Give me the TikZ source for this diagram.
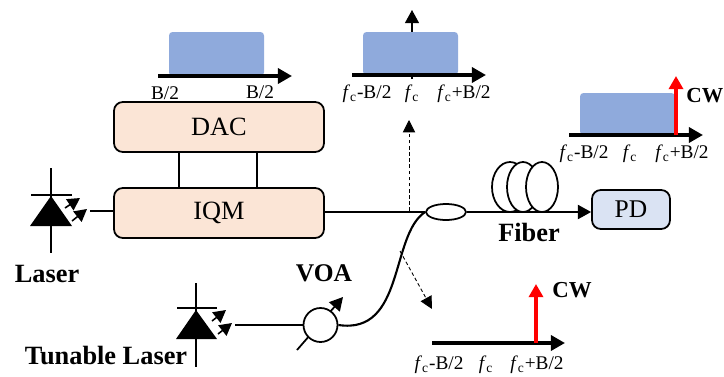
\documentclass[tikz,border=0pt]{standalone}
\usepackage{tikz}
\usepackage{xcolor}
\usepackage{fontspec}
\setmainfont{Liberation Serif}
\usetikzlibrary{arrows.meta,shapes.geometric}
\definecolor{specblue}{HTML}{8FAADC}
\definecolor{boxpeach}{HTML}{FBE5D6}
\definecolor{boxblue}{HTML}{DAE3F3}
\newcommand{\fc}{\textit{f}\textsubscript{c}}
\begin{document}
\begin{tikzpicture}[x=0.02cm,y=-0.02cm,
	box/.style={draw,line width=1pt,rounded corners=5pt,inner sep=0pt,font=\fontsize{15}{15}\selectfont},
	spec/.style={fill=specblue,rounded corners=2pt},
	specaxis/.style={-{Triangle[length=8pt,width=8.5pt]},line width=2pt},
	emit/.style={-{Triangle[length=7pt,width=7.5pt]},line width=0.9pt},
	cw/.style={-{Triangle[length=7.5pt,width=8pt]},red,line width=2.2pt},
	tap/.style={-{Triangle[length=7pt,width=7pt]},line width=0.5pt,dash pattern=on 2pt off 1.5pt},
	fibre/.style={line width=1pt},
	ticklabel/.style={font=\fontsize{11}{12}\selectfont,inner sep=0pt},
	boldlabel/.style={font=\fontsize{15}{15}\bfseries\selectfont,inner sep=0pt}]
	\useasboundingbox (0,0) rectangle (724,376);

	% Boxes
	\node[box,fill=boxpeach,minimum width=4.2cm,minimum height=1cm] (dac) at (219,127) {DAC};
	\node[box,fill=boxpeach,minimum width=4.2cm,minimum height=1cm] (iqm) at (219,213) {IQM};
	\node[box,fill=boxblue,minimum width=1.56cm,minimum height=0.78cm,font=\fontsize{14.5}{15}\selectfont] (pd) at (631,209.5) {PD};
	\coordinate (dacA) at (179,152);
	\coordinate (iqmA) at (179,188);
	\coordinate (dacB) at (257,152);
	\coordinate (iqmB) at (257,188);
	\draw[fibre] (dacA) -- (iqmA);
	\draw[fibre] (dacB) -- (iqmB);

	% Laser
	\fill (51,196) -- (72,226) -- (30,226) -- cycle;
	\draw[fibre] (51,168) -- (51,253);
	\draw[fibre] (31,195) -- (72,195);
	\draw[emit] (65,208) -- (80,198);
	\draw[emit] (72,221) -- (87,209);
	\coordinate (laser) at (90,211);
	\draw[fibre] (laser) -- (laser -| iqm.west);
	\node[boldlabel] (laserlabel) at (47,274) {Laser};

	% Tunable laser and attenuator
	\fill (196,310) -- (217,339) -- (176,339) -- cycle;
	\draw[fibre] (196,283) -- (196,367);
	\draw[fibre] (177,308) -- (217,308);
	\draw[emit] (212,321) -- (226,310);
	\draw[emit] (218,334) -- (232,323);
	\node[boldlabel] (tunablelabel) at (106,356) {Tunable Laser};
	\coordinate (voatail) at (297,350);
	\coordinate (voahead) at (343,297);
	\draw[-{Triangle[length=7.5pt,width=8pt]},fibre] (voatail) -- (voahead);
	\node[draw,circle,fill=white,fibre,minimum size=0.68cm,inner sep=0pt] (voa) at (320.5,325) {};
	\node[boldlabel,font=\fontsize{14.5}{15}\bfseries\selectfont] (voalabel) at (324,273) {VOA};
	\coordinate (tunable) at (235,325);
	\draw[fibre] (tunable) -- (voa.west);

	% Fiber coils, coupler and output
	\draw[fibre,fill=white] (510,187) ellipse (18 and 25);
	\draw[fibre,fill=white] (523,187) ellipse (16 and 25);
	\draw[fibre,fill=white] (542,187) ellipse (16 and 25);
	\node[draw,ellipse,fibre,minimum width=0.8cm,minimum height=0.32cm,inner sep=0pt] (cpl) at (446,212) {};
	\draw[fibre] (iqm.east |- cpl) -- (cpl.west);
	\draw[line width=1.2pt] (voa.east) .. controls (405,335) and (390,235) .. (cpl.west);
	\draw[-{Triangle[length=7.5pt,width=8pt]},fibre] (cpl.east) -- (pd.west |- cpl);
	\node[boldlabel] (fiberlabel) at (529,232) {Fiber};

	% Tapped signals
	\coordinate (tapup) at (409,211);
	\coordinate (tapupend) at (409,120);
	\coordinate (tapdown) at (400,251);
	\coordinate (tapdownend) at (432,309);
	\draw[tap] (tapup) -- (tapupend);
	\draw[tap] (tapdown) -- (tapdownend);

	% Baseband spectrum
	\fill[spec] (169,32) rectangle (264,76);
	\coordinate (axisAa) at (158,76);
	\coordinate (axisAb) at (292,76);
	\draw[specaxis] (axisAa) -- (axisAb);
	\node[ticklabel] (lowA) at (165,93) {B/2};
	\node[ticklabel] (highA) at (260,92) {B/2};

	% Modulated spectrum
	\coordinate (peakB) at (412,79);
	\coordinate (peakBend) at (412,10);
	\draw[-{Triangle[length=7.5pt,width=8pt]},line width=0.8pt] (peakB) -- (peakBend);
	\fill[spec] (363,32) rectangle (458,75);
	\coordinate (axisBa) at (352,75);
	\coordinate (axisBb) at (486,75);
	\draw[specaxis] (axisBa) -- (axisBb);
	\node[ticklabel] (lowB) at (367,94) {\fc-B/2};
	\node[ticklabel] (midB) at (412,94) {\fc};
	\node[ticklabel] (highB) at (464,94) {\fc+B/2};

	% Spectrum at the detector
	\fill[spec] (580,93) rectangle (675,135);
	\coordinate (axisCa) at (569,135);
	\coordinate (axisCb) at (703,135);
	\draw[specaxis] (axisCa) -- (axisCb);
	\coordinate (cwCa) at (676,135);
	\coordinate (cwCb) at (676,76);
	\draw[cw] (cwCa) -- (cwCb);
	\node[boldlabel,font=\fontsize{12.2}{13}\bfseries\selectfont,anchor=west] (cwClabel) at (686,96) {CW};
	\node[ticklabel] (lowC) at (584,154) {\fc-B/2};
	\node[ticklabel] (midC) at (630,154) {\fc};
	\node[ticklabel] (highC) at (682,154) {\fc+B/2};

	% Tunable tone spectrum
	\coordinate (axisDa) at (432,343);
	\coordinate (axisDb) at (565,343);
	\draw[specaxis] (axisDa) -- (axisDb);
	\coordinate (cwDa) at (536,343);
	\coordinate (cwDb) at (536,284);
	\draw[cw] (cwDa) -- (cwDb);
	\node[boldlabel,font=\fontsize{13}{13}\bfseries\selectfont] (cwDlabel) at (572,290) {CW};
	\node[ticklabel] (lowD) at (439,365) {\fc-B/2};
	\node[ticklabel] (midD) at (486,365) {\fc};
	\node[ticklabel] (highD) at (537,365) {\fc+B/2};
\end{tikzpicture}
\end{document}
